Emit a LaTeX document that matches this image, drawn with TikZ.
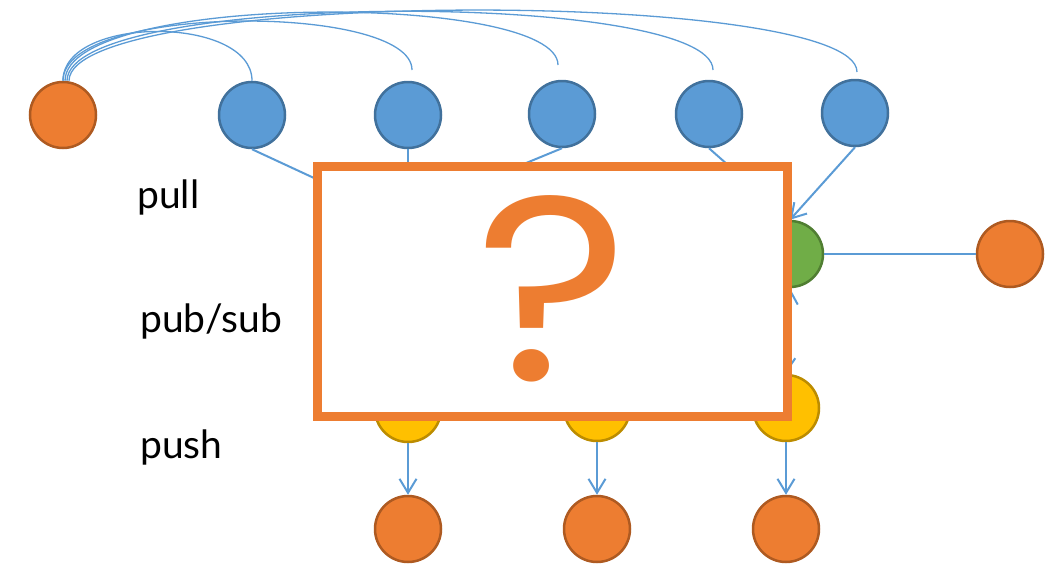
\documentclass[tikz,border=0pt]{standalone}
\usepackage{fontspec}
\setmainfont{Lato}
\newfontfamily\qfont{Poppins}
\usetikzlibrary{arrows.meta}
\definecolor{orF}{HTML}{ED7D31}
\definecolor{orD}{HTML}{AE5A21}
\definecolor{blF}{HTML}{5B9BD5}
\definecolor{blD}{HTML}{41719C}
\definecolor{grF}{HTML}{70AD47}
\definecolor{grD}{HTML}{507E32}
\definecolor{yeF}{HTML}{FFC000}
\definecolor{yeD}{HTML}{BC8C00}
\begin{document}
\begin{tikzpicture}[x=1pt,y=-1pt,
  dot/.style={circle,minimum size=66pt,inner sep=0pt,line width=2.5pt},
  orng/.style={dot,fill=orF,draw=orD},
  blu/.style={dot,fill=blF,draw=blD},
  grn/.style={dot,fill=grF,draw=grD},
  yel/.style={dot,fill=yeF,draw=yeD},
  conn/.style={draw=blF,line width=2pt},
  arcl/.style={draw=blF,line width=1.3pt},
  tip/.tip={Straight Barb[length=14pt,width=17pt,line width=2pt]},
  arr/.style={conn,-tip},
  lbl/.style={font=\fontsize{39}{42}\selectfont,inner sep=0pt,anchor=base west}]
\useasboundingbox (0,0) rectangle (1047,565);
% nodes
\node[orng] (o) at (63,115) {};
\node[blu] (b1) at (252,115) {};
\node[blu] (b2) at (408,115) {};
\node[blu] (b3) at (562,114) {};
\node[blu] (b4) at (709,114) {};
\node[blu] (b5) at (855,113) {};
\node[grn] (g) at (790,254) {};
\node[orng] (og) at (1010,254) {};
\node[yel] (y1) at (408,409) {};
\node[yel] (y2) at (597,408) {};
\node[yel] (y3) at (786,408) {};
\node[orng] (c1) at (408,529) {};
\node[orng] (c2) at (597,529) {};
\node[orng] (c3) at (786,529) {};
% arc end points and hidden ends
\coordinate (e2) at (412,70);
\coordinate (e3) at (558,65);
\coordinate (e4) at (713,70);
\coordinate (e5) at (857,72);
\coordinate (h1) at (480,255);
\coordinate (h2) at (408,250);
\coordinate (h3) at (480,182);
% arcs
\draw[arcl] (o.north) .. controls (63,15) and (252,15) .. (b1.north);
\draw[arcl] (o.north) .. controls (63,3) and (412,3) .. (e2);
\draw[arcl] ([xshift=2pt]o.north) .. controls (66,-8) and (558,-8) .. (e3);
\draw[arcl] ([xshift=4pt]o.north) .. controls (68,-10) and (713,-10) .. (e4);
\draw[arcl] ([xshift=6pt]o.north) .. controls (70,-12) and (857,-12) .. (e5);
% connectors
\draw[conn] (b1.south) -- (h1);
\draw[conn] (b2.south) -- (h2);
\draw[conn] (b3.south) -- (h3);
\draw[arr] (b4.south) -- (g.north);
\draw[arr] (b5.south) -- (g.north);
\draw[conn] (g) -- (og);
\draw[conn,tip-tip] (g.south) -- (y3.north);
\draw[arr] (y1) -- (c1);
\draw[arr] (y2) -- (c2);
\draw[arr] (y3) -- (c3);
% covering box
\node[draw=orF,line width=9pt,fill=white,minimum width=470pt,minimum height=249.5pt,inner sep=0pt] (box) at (552.5,291.25) {};
\node[text=orF,font=\qfont\fontsize{262}{262}\selectfont,inner sep=0pt,anchor=base,xscale=1.12] (q) at (552,380) {?};
% labels
\node[lbl] (lpull) at (137,208) {pull};
\node[lbl] (lpub) at (140,332) {pub/sub};
\node[lbl] (lpush) at (140,458) {push};
\end{tikzpicture}
\end{document}
